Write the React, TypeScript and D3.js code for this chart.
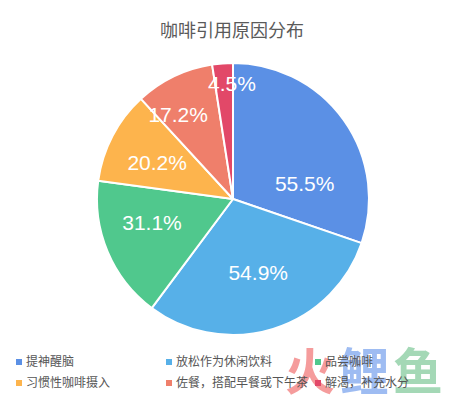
import React from "react";
import * as d3 from "d3";

const categories = ["提神醒脑", "放松作为休闲饮料", "品尝咖啡", "习惯性咖啡摄入", "佐餐，搭配早餐或下午茶", "解渴，补充水分"];
const values = [55.5, 54.9, 31.1, 20.2, 17.2, 4.5];
const colors = ["#5b90e5", "#57b0e8", "#50c88d", "#fdb44d", "#ef7f6b", "#e24868"];
const title = "咖啡引用原因分布";

// label layout tweaks (fraction of radius, angle shift in degrees)
const labelRadiusFrac = [0.54, 0.57, 0.62, 0.62, 0.74, 0.85];
const labelAngleShift = [23, -1.8, 6.7, -1.6, -7.3, 3.9];

const W = 458, H = 396;
const cx = 233, cy = 199, R = 136;

export default function App() {
  const pie = d3.pie<number>().sort(null).value((d) => d)(values);
  const arc = d3.arc<d3.PieArcDatum<number>>().innerRadius(0).outerRadius(R);
  const legendCols = [16, 166, 315];
  const legendRows = [362, 383];
  return (
    <svg width={W} height={H} style={{ position: "absolute", left: 0, top: 0, background: "#fff" }}>
      <text x={232} y={37} textAnchor="middle" fontFamily="'Noto Sans CJK SC', sans-serif" fontSize={18} fill="#5a5a5a">
        {title}
      </text>
      <g transform={`translate(${cx},${cy})`}>
        {pie.map((p, i) => (
          <path key={i} d={arc(p) || ""} fill={colors[i]} stroke="#fff" strokeWidth={2} strokeLinejoin="round" />
        ))}
        {pie.map((p, i) => {
          const a = (p.startAngle + p.endAngle) / 2 + (labelAngleShift[i] * Math.PI) / 180;
          const r = R * labelRadiusFrac[i];
          return (
            <text key={i} x={Math.sin(a) * r} y={-Math.cos(a) * r} dy="0.36em" textAnchor="middle"
              fontFamily="'Liberation Sans', Arial, sans-serif" fontSize={21} fill="#fff">
              {values[i].toFixed(1)}%
            </text>
          );
        })}
      </g>
      <g opacity={0.75} fontFamily="'Noto Sans CJK SC', sans-serif" fontWeight="bold" fontSize={50}>
        <text x={285} y={390} fill="#f27b7b">火</text>
        <text x={339} y={390} fill="#7ea6ee">鲤</text>
        <text x={393} y={390} fill="#86cc9e">鱼</text>
      </g>
      {categories.map((c, i) => {
        const x = legendCols[i % 3];
        const y = legendRows[Math.floor(i / 3)];
        return (
          <g key={i}>
            <rect x={x} y={y - 3} width={6} height={6} fill={colors[i]} />
            <text x={x + 10} y={y} dy="0.35em" fontFamily="'Noto Sans CJK SC', sans-serif" fontSize={12} fill="#555">
              {c}
            </text>
          </g>
        );
      })}
    </svg>
  );
}
